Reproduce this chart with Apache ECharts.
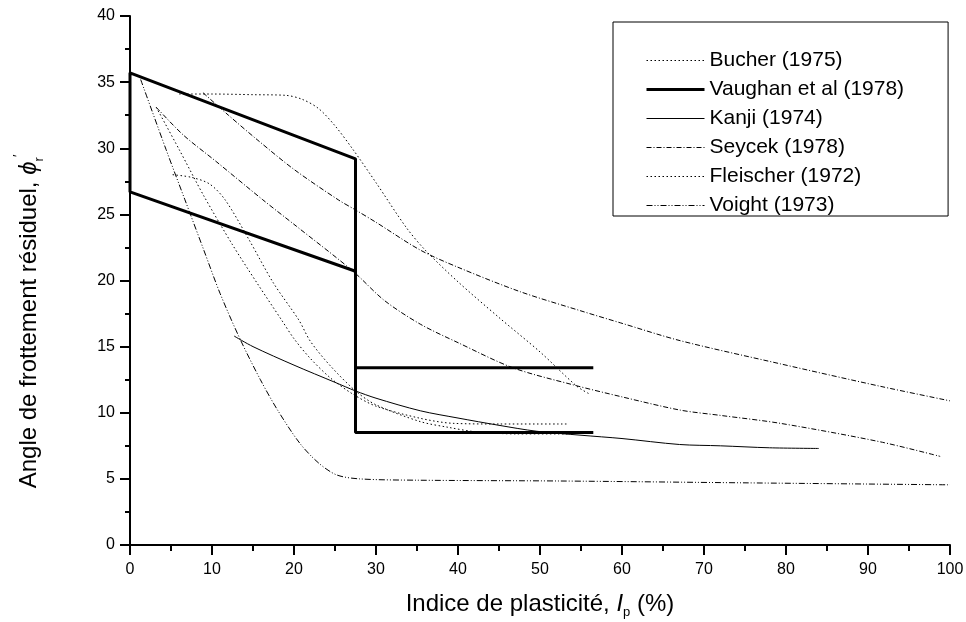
<!DOCTYPE html>
<html>
<head>
<meta charset="utf-8">
<script src="https://cdn.jsdelivr.net/npm/echarts@6/dist/echarts.min.js"></script>
<style>html,body{margin:0;padding:0;background:#fff}#c{width:966px;height:622px}</style>
</head>
<body>
<div id="c"></div>
<script>
// Data (x = Indice de plasticité %, y = angle °)
var bucherUpper = [[6.0,34.1],[10,34.1],[15,34.05],[19,34.0],[21,33.7],[23,33.0],[25,31.7],[27.2,29.9],[30,27.4],[33.7,24.0],[36,22.3],[40,19.9],[45,17.2],[50,14.6],[54.5,12.0],[56.1,11.4]];
var bucherLower = [[3.2,33.1],[6,29.9],[9,26.4],[12.5,22.7],[15.5,19.8],[18.5,17.0],[20,15.6],[22,14.1],[24.5,12.6],[27.2,11.4],[30,10.5],[35.4,9.58],[39.4,9.2],[45,9.15],[53.3,9.15]];
var vaughanMain = [[27.5,20.7],[0,26.7],[0,35.7],[27.5,29.2],[27.5,8.5],[56.5,8.5]];
var vaughanUpperBar = [[27.5,13.4],[56.5,13.4]];
var kanji = [[12.7,15.8],[15,15.0],[20,13.6],[25,12.3],[27.5,11.65],[30,11.1],[35.4,10.15],[40,9.6],[45,9.05],[49.6,8.6],[55,8.3],[60,8.05],[67,7.6],[72,7.5],[78,7.35],[84,7.3]];
var seycekUpper = [[8.9,34.2],[12,32.5],[15.6,30.6],[20,28.4],[25.4,26.1],[27.6,25.3],[30,24.4],[35.4,22.3],[40,21.0],[47.6,19.15],[55,17.7],[59.8,16.8],[67.1,15.45],[79.3,13.7],[91.5,12.0],[100,10.9]];
var seycekLower = [[3.2,33.1],[6.5,31.0],[10.5,29.0],[16.2,26.1],[20.3,24.1],[27.2,20.7],[31,18.5],[35.4,16.7],[40,15.3],[46.7,13.4],[54.1,12.1],[60,11.2],[67.1,10.2],[72,9.8],[79.3,9.2],[91.5,7.8],[98.8,6.7]];
var fleischer = [[5.2,28.0],[7.5,27.8],[9.7,27.3],[11.6,26.1],[14.5,23.1],[17.5,19.8],[20.6,17.0],[22,15.4],[24.5,13.5],[27.6,11.6],[30,10.6],[35.4,9.33],[38.8,8.9],[42.3,8.55],[47.2,8.4],[54.1,8.4]];
var voight = [[1.3,35.2],[4.4,29.9],[6.7,26.1],[9.0,22.3],[11,19.0],[13.4,15.6],[15.9,12.5],[18,10.2],[20.7,7.7],[23,6.2],[25.2,5.3],[28,5.0],[35,4.9],[52.4,4.84],[75,4.7],[100,4.55]];
var legendNames = ['Bucher (1975)','Vaughan et al (1978)','Kanji (1974)','Seycek (1978)','Fleischer (1972)','Voight (1973)'];

var FONT = '"Liberation Sans", Arial, sans-serif';
var dotted = [1.5, 2.5];
var dashDot = [5, 2, 1, 2];
var dashDotDot = [6, 2, 1, 2, 1, 2];

function ser(name, data, w, type, smooth) {
  return {
    name: name, type: 'line', data: data, symbol: 'none', smooth: smooth,
    lineStyle: { color: '#000', width: w, type: type },
    itemStyle: { color: '#000' },
    silent: true, animation: false
  };
}

var chart = echarts.init(document.getElementById('c'), null, { renderer: 'canvas' });
chart.setOption({
  animation: false,
  backgroundColor: '#fff',
  grid: { left: 130, right: 16, top: 16, bottom: 77, containLabel: false, outerBoundsMode: 'none' },
  legend: {
    data: legendNames,
    orient: 'vertical',
    left: 613, top: 22,
    padding: [28, 44, 0, 32],
    itemWidth: 58, itemHeight: 10, itemGap: 8,
    borderColor: '#000', borderWidth: 1,
    selectedMode: false,
    itemStyle: { opacity: 0 },
    lineStyle: { width: 'inherit' },
    textStyle: { fontFamily: FONT, fontSize: 21, color: '#000', lineHeight: 21, padding: [0,0,0,0] }
  },
  xAxis: {
    type: 'value', min: 0, max: 100, interval: 10,
    name: 'Indice de plasticité, {i|I}{sub|p} (%)',
    nameLocation: 'middle', nameGap: 45,
    nameTextStyle: { fontFamily: FONT, fontSize: 24, color: '#000', lineHeight: 28,
      rich: { i: { fontFamily: FONT, fontSize: 24, fontStyle: 'italic', color: '#000', lineHeight: 28 },
              sub: { fontFamily: FONT, fontSize: 13, color: '#000', verticalAlign: 'bottom', lineHeight: 29 } } },
    axisLine: { show: true, onZero: false, lineStyle: { color: '#000', width: 2 } },
    axisTick: { show: true, inside: false, length: 10, lineStyle: { color: '#000', width: 2 } },
    minorTick: { show: true, splitNumber: 2, length: 6, lineStyle: { color: '#000', width: 2 } },
    splitLine: { show: false },
    axisLabel: { fontFamily: FONT, fontSize: 16, color: '#000', margin: 17 }
  },
  yAxis: {
    type: 'value', min: 0, max: 40, interval: 5,
    name: 'Angle de frottement résiduel, {i|ϕ}{sub|r}{sup|′}',
    nameLocation: 'middle', nameGap: 84,
    nameTextStyle: { fontFamily: FONT, fontSize: 24, color: '#000', padding: [0, 82, 0, 0], lineHeight: 28,
      rich: { i: { fontFamily: FONT, fontSize: 24, fontStyle: 'italic', color: '#000', lineHeight: 28 },
              sub: { fontFamily: FONT, fontSize: 13, color: '#000', verticalAlign: 'bottom', lineHeight: 34 },
              sup: { fontFamily: FONT, fontSize: 13, color: '#000', verticalAlign: 'top', lineHeight: 34 } } },
    axisLine: { show: true, onZero: false, lineStyle: { color: '#000', width: 2 } },
    axisTick: { show: true, inside: false, length: 10, lineStyle: { color: '#000', width: 2 } },
    minorTick: { show: true, splitNumber: 2, length: 5, lineStyle: { color: '#000', width: 2 } },
    splitLine: { show: false },
    axisLabel: { fontFamily: FONT, fontSize: 16, color: '#000', margin: 15 }
  },
  series: [
    ser('Bucher (1975)', bucherUpper, 1, dotted, 0.3),
    ser('Bucher (1975)', bucherLower, 1, dotted, 0.3),
    ser('Vaughan et al (1978)', vaughanMain, 3, 'solid', false),
    ser('Vaughan et al (1978)', vaughanUpperBar, 3, 'solid', false),
    ser('Kanji (1974)', kanji, 1, 'solid', 0.3),
    ser('Seycek (1978)', seycekUpper, 1, dashDot, 0.3),
    ser('Seycek (1978)', seycekLower, 1, dashDot, 0.3),
    ser('Fleischer (1972)', fleischer, 1, dotted, 0.3),
    ser('Voight (1973)', voight, 1, dashDotDot, 0.3)
  ]
});
</script>
</body>
</html>
